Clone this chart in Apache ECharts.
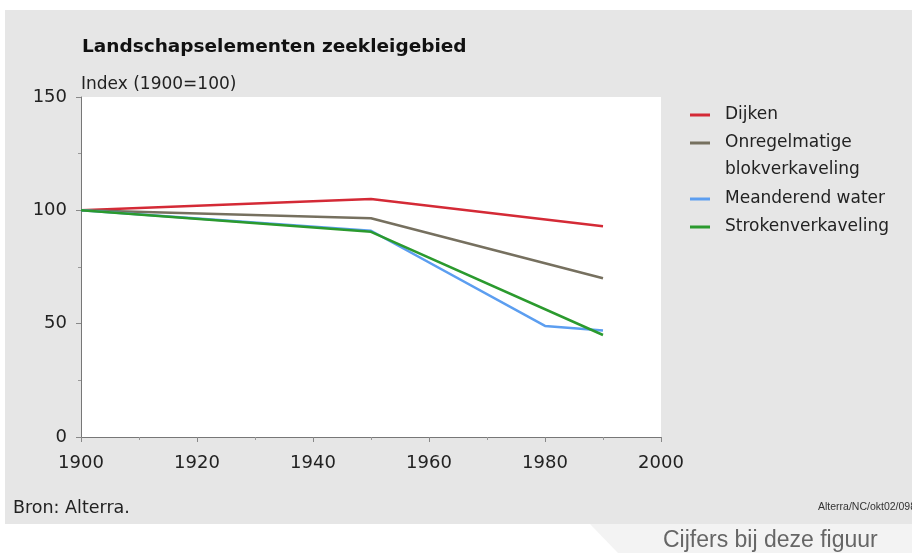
<!DOCTYPE html>
<html>
<head>
<meta charset="utf-8">
<script src="https://cdn.jsdelivr.net/npm/echarts@6/dist/echarts.min.js"></script>
<style>
  html, body { margin: 0; padding: 0; background: #fff; }
  #chart { width: 912px; height: 553px; }
</style>
</head>
<body>
<div id="chart"></div>
<script>
// jaartallen en indexwaarden (1900=100)
var jarenHoofd = [1900, 1950, 1990];
var jarenWater = [1900, 1950, 1980, 1990];
var dijken = [100, 105, 93];
var onregelmatig = [100, 96.5, 70];
var meanderend = [100, 91, 49, 47];
var stroken = [100, 90.5, 45];
var namen = ['Dijken', 'Onregelmatige blokverkaveling', 'Meanderend water', 'Strokenverkaveling'];

function paren(jaren, waarden) {
  return jaren.map(function (j, i) { return [j, waarden[i]]; });
}

var font = 'DejaVu Sans';
var myChart = echarts.init(document.getElementById('chart'));

var lijn = function (naam, data, kleur) {
  return {
    name: naam,
    type: 'line',
    data: data,
    showSymbol: false,
    lineStyle: { width: 2.5, color: kleur },
    itemStyle: { color: kleur },
    animation: false
  };
};

var legendaBasis = {
  orient: 'vertical',
  left: 690,
  padding: 0,
  itemGap: 0,
  itemWidth: 20,
  itemHeight: 3,
  icon: 'rect',
  textStyle: { fontSize: 17, color: '#222', fontFamily: font, lineHeight: 28, padding: [0, 0, 0, 10] }
};

var option = {
  backgroundColor: '#fff',
  textStyle: { fontFamily: font },
  title: {
    text: 'Landschapselementen zeekleigebied',
    left: 77,
    top: 33,
    textStyle: { fontSize: 18.5, fontWeight: 'bold', color: '#111', fontFamily: font }
  },
  // legenda in twee delen, zodat de tweede regel van "Onregelmatige" los staat
  legend: [
    Object.assign({}, legendaBasis, {
      top: 101,
      data: namen.slice(0, 2),
      formatter: function (n) { return n === namen[1] ? 'Onregelmatige' : n; }
    }),
    Object.assign({}, legendaBasis, {
      top: 185,
      data: namen.slice(2)
    })
  ],
  graphic: [
    { type: 'rect', z: -10, shape: { x: 5, y: 10, width: 907, height: 514 }, style: { fill: '#e6e6e6' } },
    { type: 'polygon', z: -10, shape: { points: [[590, 524], [912, 524], [912, 553], [618, 553]] }, style: { fill: '#f3f3f3' } },
    { type: 'text', left: 725, top: 161, style: { text: 'blokverkaveling', fontSize: 17, fill: '#222', fontFamily: font } },
    { type: 'text', left: 13, top: 499, style: { text: 'Bron: Alterra.', fontSize: 17.5, fill: '#222', fontFamily: font } },
    { type: 'text', left: 818, top: 502, style: { text: 'Alterra/NC/okt02/0988', fontSize: 10.5, fill: '#333', fontFamily: 'Liberation Sans' } },
    { type: 'text', left: 663, top: 529, style: { text: 'Cijfers bij deze figuur', fontSize: 23, fill: '#666', fontFamily: 'Liberation Sans' } }
  ],
  grid: {
    left: 81,
    right: 251,
    top: 97,
    bottom: 116,
    show: true,
    backgroundColor: '#fff',
    borderWidth: 0
  },
  xAxis: {
    type: 'value',
    min: 1900,
    max: 2000,
    interval: 20,
    axisLine: { lineStyle: { color: '#777' } },
    axisTick: { length: 5, lineStyle: { color: '#888' } },
    minorTick: { show: true, splitNumber: 2, length: 3, lineStyle: { color: '#999' } },
    splitLine: { show: false },
    axisLabel: { fontSize: 18, color: '#222', margin: 17, fontFamily: font, formatter: function (v) { return String(v); } }
  },
  yAxis: {
    type: 'value',
    min: 0,
    max: 150,
    interval: 50,
    name: 'Index (1900=100)',
    nameLocation: 'end',
    nameGap: 4,
    nameTextStyle: { align: 'left', fontSize: 17, color: '#222', fontFamily: font, padding: [0, 0, 0, 0] },
    axisLine: { show: true, lineStyle: { color: '#777' } },
    axisTick: { show: true, length: 5, lineStyle: { color: '#888' } },
    minorTick: { show: true, splitNumber: 2, length: 3, lineStyle: { color: '#999' } },
    splitLine: { show: false },
    axisLabel: { fontSize: 18, color: '#222', margin: 14, fontFamily: font }
  },
  series: [
    lijn(namen[0], paren(jarenHoofd, dijken), '#d42a36'),
    lijn(namen[1], paren(jarenHoofd, onregelmatig), '#76705f'),
    lijn(namen[2], paren(jarenWater, meanderend), '#5c9ef0'),
    lijn(namen[3], paren(jarenHoofd, stroken), '#2b9a2e')
  ]
};

myChart.setOption(option);
</script>
</body>
</html>
